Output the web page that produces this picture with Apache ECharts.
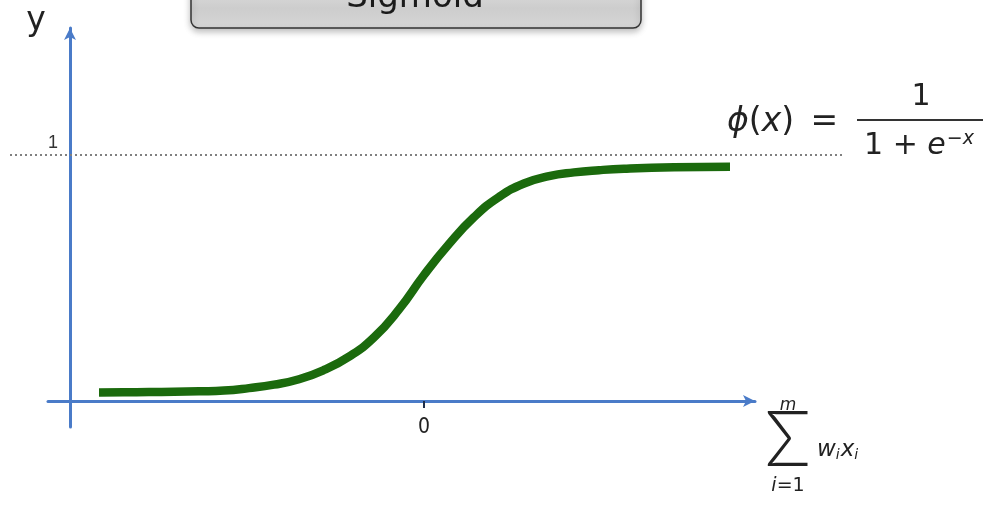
<!DOCTYPE html>
<html>
<head>
<meta charset="utf-8">
<script src="https://cdn.jsdelivr.net/npm/echarts@6/dist/echarts.min.js"></script>
<style>
  html, body { margin: 0; padding: 0; background: #ffffff; }
  #chart { width: 999px; height: 505px; }
</style>
</head>
<body>
<div id="chart"></div>
<script>
// Sigmoid activation curve: weighted input sum on x, activation on y
const curveX = [-3.25, -3.0, -2.75, -2.5, -2.25, -2.0, -1.75, -1.5, -1.25, -1.0, -0.75, -0.5, -0.25, 0.0, 0.25, 0.5, 0.75, 1.0, 1.25, 1.5, 1.75, 2.0, 2.5, 3.06];
const curveY = [0.034, 0.035, 0.036, 0.037, 0.039, 0.042, 0.052, 0.066, 0.088, 0.126, 0.180, 0.258, 0.372, 0.512, 0.638, 0.747, 0.829, 0.884, 0.914, 0.929, 0.938, 0.944, 0.950, 0.952];
const xTickValues = [0];
const yTickValues = [1];
const upperLevel = 1;

const X_MIN = -3.76, X_MAX = 3.31;
const Y_MIN = -0.106, Y_MAX = 1.516;

const AXIS_BLUE = '#4a7bc8';
const CURVE_GREEN = '#1b6a0d';

const curveData = curveX.map((x, i) => [x, curveY[i]]);

const chart = echarts.init(document.getElementById('chart'), null, { renderer: 'canvas' });

const gridTop = 28, gridBottom = 78;

chart.setOption({
  backgroundColor: '#ffffff',
  animation: false,
  grid: [
    { left: 48, right: 244, top: gridTop, bottom: gridBottom },   // curve + horizontal axis
    { left: 70, right: 244, top: gridTop, bottom: gridBottom },   // vertical axis
    { left: 10, right: 154, top: gridTop, bottom: gridBottom }    // dotted upper level
  ],
  xAxis: [
    {
      gridIndex: 0, type: 'value', min: X_MIN, max: X_MAX,
      axisLine: {
        show: true, onZero: true, onZeroAxisIndex: 0,
        symbol: ['none', 'arrow'], symbolSize: [9, 12],
        lineStyle: { color: AXIS_BLUE, width: 3 }
      },
      axisTick: { show: true, customValues: xTickValues, length: 7, lineStyle: { color: '#1f2f4a', width: 2 } },
      axisLabel: {
        show: true, customValues: xTickValues, margin: -10,
        formatter: (v) => '{t|' + v + '}',
        rich: { t: { fontSize: 21, fontFamily: '"Liberation Sans Narrow", "DejaVu Sans Condensed", "Liberation Sans"', color: '#222', lineHeight: 22 } }
      },
      splitLine: { show: false }
    },
    { gridIndex: 1, type: 'value', min: X_MIN, max: X_MAX, show: false },
    { gridIndex: 2, type: 'value', min: X_MIN, max: X_MAX, show: false }
  ],
  yAxis: [
    { gridIndex: 0, type: 'value', min: Y_MIN, max: Y_MAX, show: false },
    {
      gridIndex: 1, type: 'value', min: Y_MIN, max: Y_MAX, position: 'left',
      axisLine: {
        show: true, onZero: false,
        symbol: ['none', 'arrow'], symbolSize: [9, 12],
        lineStyle: { color: AXIS_BLUE, width: 3 }
      },
      axisTick: { show: false },
      axisLabel: {
        show: true, customValues: yTickValues, margin: 12,
        verticalAlign: 'bottom',
        formatter: (v) => '{t|' + v + '}',
        rich: { t: { fontSize: 18, fontFamily: '"Liberation Sans"', color: '#333', lineHeight: 19, padding: [0, 0, 5, 0] } }
      },
      splitLine: { show: false }
    },
    { gridIndex: 2, type: 'value', min: Y_MIN, max: Y_MAX, show: false }
  ],
  series: [
    {
      type: 'line', xAxisIndex: 2, yAxisIndex: 2, data: [],
      silent: true,
      markLine: {
        silent: true, symbol: ['none', 'none'],
        label: { show: false },
        lineStyle: { color: '#808080', width: 2, type: [2, 3] },
        data: [{ yAxis: upperLevel }]
      }
    },
    {
      type: 'line', xAxisIndex: 0, yAxisIndex: 0,
      data: curveData, smooth: 0.5, showSymbol: false, silent: true,
      lineStyle: { color: CURVE_GREEN, width: 8.5, cap: 'butt', join: 'round' }
    }
  ],
  graphic: [
    // title tab at the top
    {
      type: 'rect', z: 10,
      shape: { x: 191, y: -22, width: 450, height: 50, r: 8 },
      style: {
        fill: new echarts.graphic.LinearGradient(0, 0, 0, 1, [
          { offset: 0, color: '#e4e4e4' },
          { offset: 0.6, color: '#cdcdcd' },
          { offset: 1, color: '#d6d6d6' }
        ]),
        stroke: '#333333', lineWidth: 1.5,
        shadowBlur: 6, shadowOffsetY: 3, shadowColor: 'rgba(0,0,0,0.25)'
      }
    },
    {
      type: 'text', z: 11, x: 415, y: 15,
      style: { text: 'Sigmoid', fill: '#1a1a1a', font: '34px "DejaVu Sans"', textAlign: 'center', textVerticalAlign: 'bottom' }
    },
    // y axis name
    {
      type: 'text', z: 11, x: 36, y: 5,
      style: { text: 'y', fill: '#222', font: '33px "DejaVu Sans"', textAlign: 'center', textVerticalAlign: 'top' }
    },
    // phi(x) =
    {
      type: 'text', z: 11, x: 727, y: 122,
      style: {
        text: '{it|ϕ}{n|(}{it|x}{n|)}{eq| =}',
        textAlign: 'left', textVerticalAlign: 'middle',
        rich: {
          it: { font: 'italic 33px "DejaVu Sans"', fill: '#222' },
          n: { font: '33px "DejaVu Sans"', fill: '#222' },
          eq: { font: '33px "DejaVu Sans"', fill: '#222', padding: [0, 0, 0, 6] }
        }
      }
    },
    {
      type: 'text', z: 11, x: 921, y: 97,
      style: { text: '1', font: '30px "DejaVu Sans"', fill: '#222', textAlign: 'center', textVerticalAlign: 'middle' }
    },
    {
      type: 'line', z: 11,
      shape: { x1: 857, y1: 120, x2: 983, y2: 120 },
      style: { stroke: '#333', lineWidth: 2 }
    },
    {
      type: 'text', z: 11, x: 919, y: 146,
      style: {
        text: '{n|1 + }{e|e}{sup|−x}',
        textAlign: 'center', textVerticalAlign: 'middle',
        rich: {
          n: { font: '30px "DejaVu Sans"', fill: '#222' },
          e: { font: 'italic 30px "DejaVu Sans"', fill: '#222' },
          sup: { font: 'italic 19px "DejaVu Sans"', fill: '#222', verticalAlign: 'top', padding: [0, 0, 14, 1] }
        }
      }
    },
    // sum over i = 1..m of w_i x_i
    {
      type: 'text', z: 11, x: 788, y: 441,
      style: { text: 'Σ', font: '300 76px Lato, "DejaVu Sans"', fill: '#222', textAlign: 'center', textVerticalAlign: 'middle' }
    },
    {
      type: 'text', z: 11, x: 788, y: 406,
      style: { text: 'm', font: 'italic 17px "DejaVu Sans"', fill: '#222', textAlign: 'center', textVerticalAlign: 'middle' }
    },
    {
      type: 'text', z: 11, x: 788, y: 486,
      style: {
        text: '{it|i}{n|=1}', textAlign: 'center', textVerticalAlign: 'middle',
        rich: {
          it: { font: 'italic 19px "DejaVu Sans"', fill: '#222' },
          n: { font: '19px "DejaVu Sans"', fill: '#222' }
        }
      }
    },
    {
      type: 'text', z: 11, x: 817, y: 450,
      style: {
        text: '{b|w}{s|i}{b|x}{s|i}', textAlign: 'left', textVerticalAlign: 'middle',
        rich: {
          b: { font: 'italic 23px "DejaVu Sans"', fill: '#222' },
          s: { font: 'italic 14px "DejaVu Sans"', fill: '#222', padding: [10, 1, 0, 0] }
        }
      }
    }
  ]
});
</script>
</body>
</html>
